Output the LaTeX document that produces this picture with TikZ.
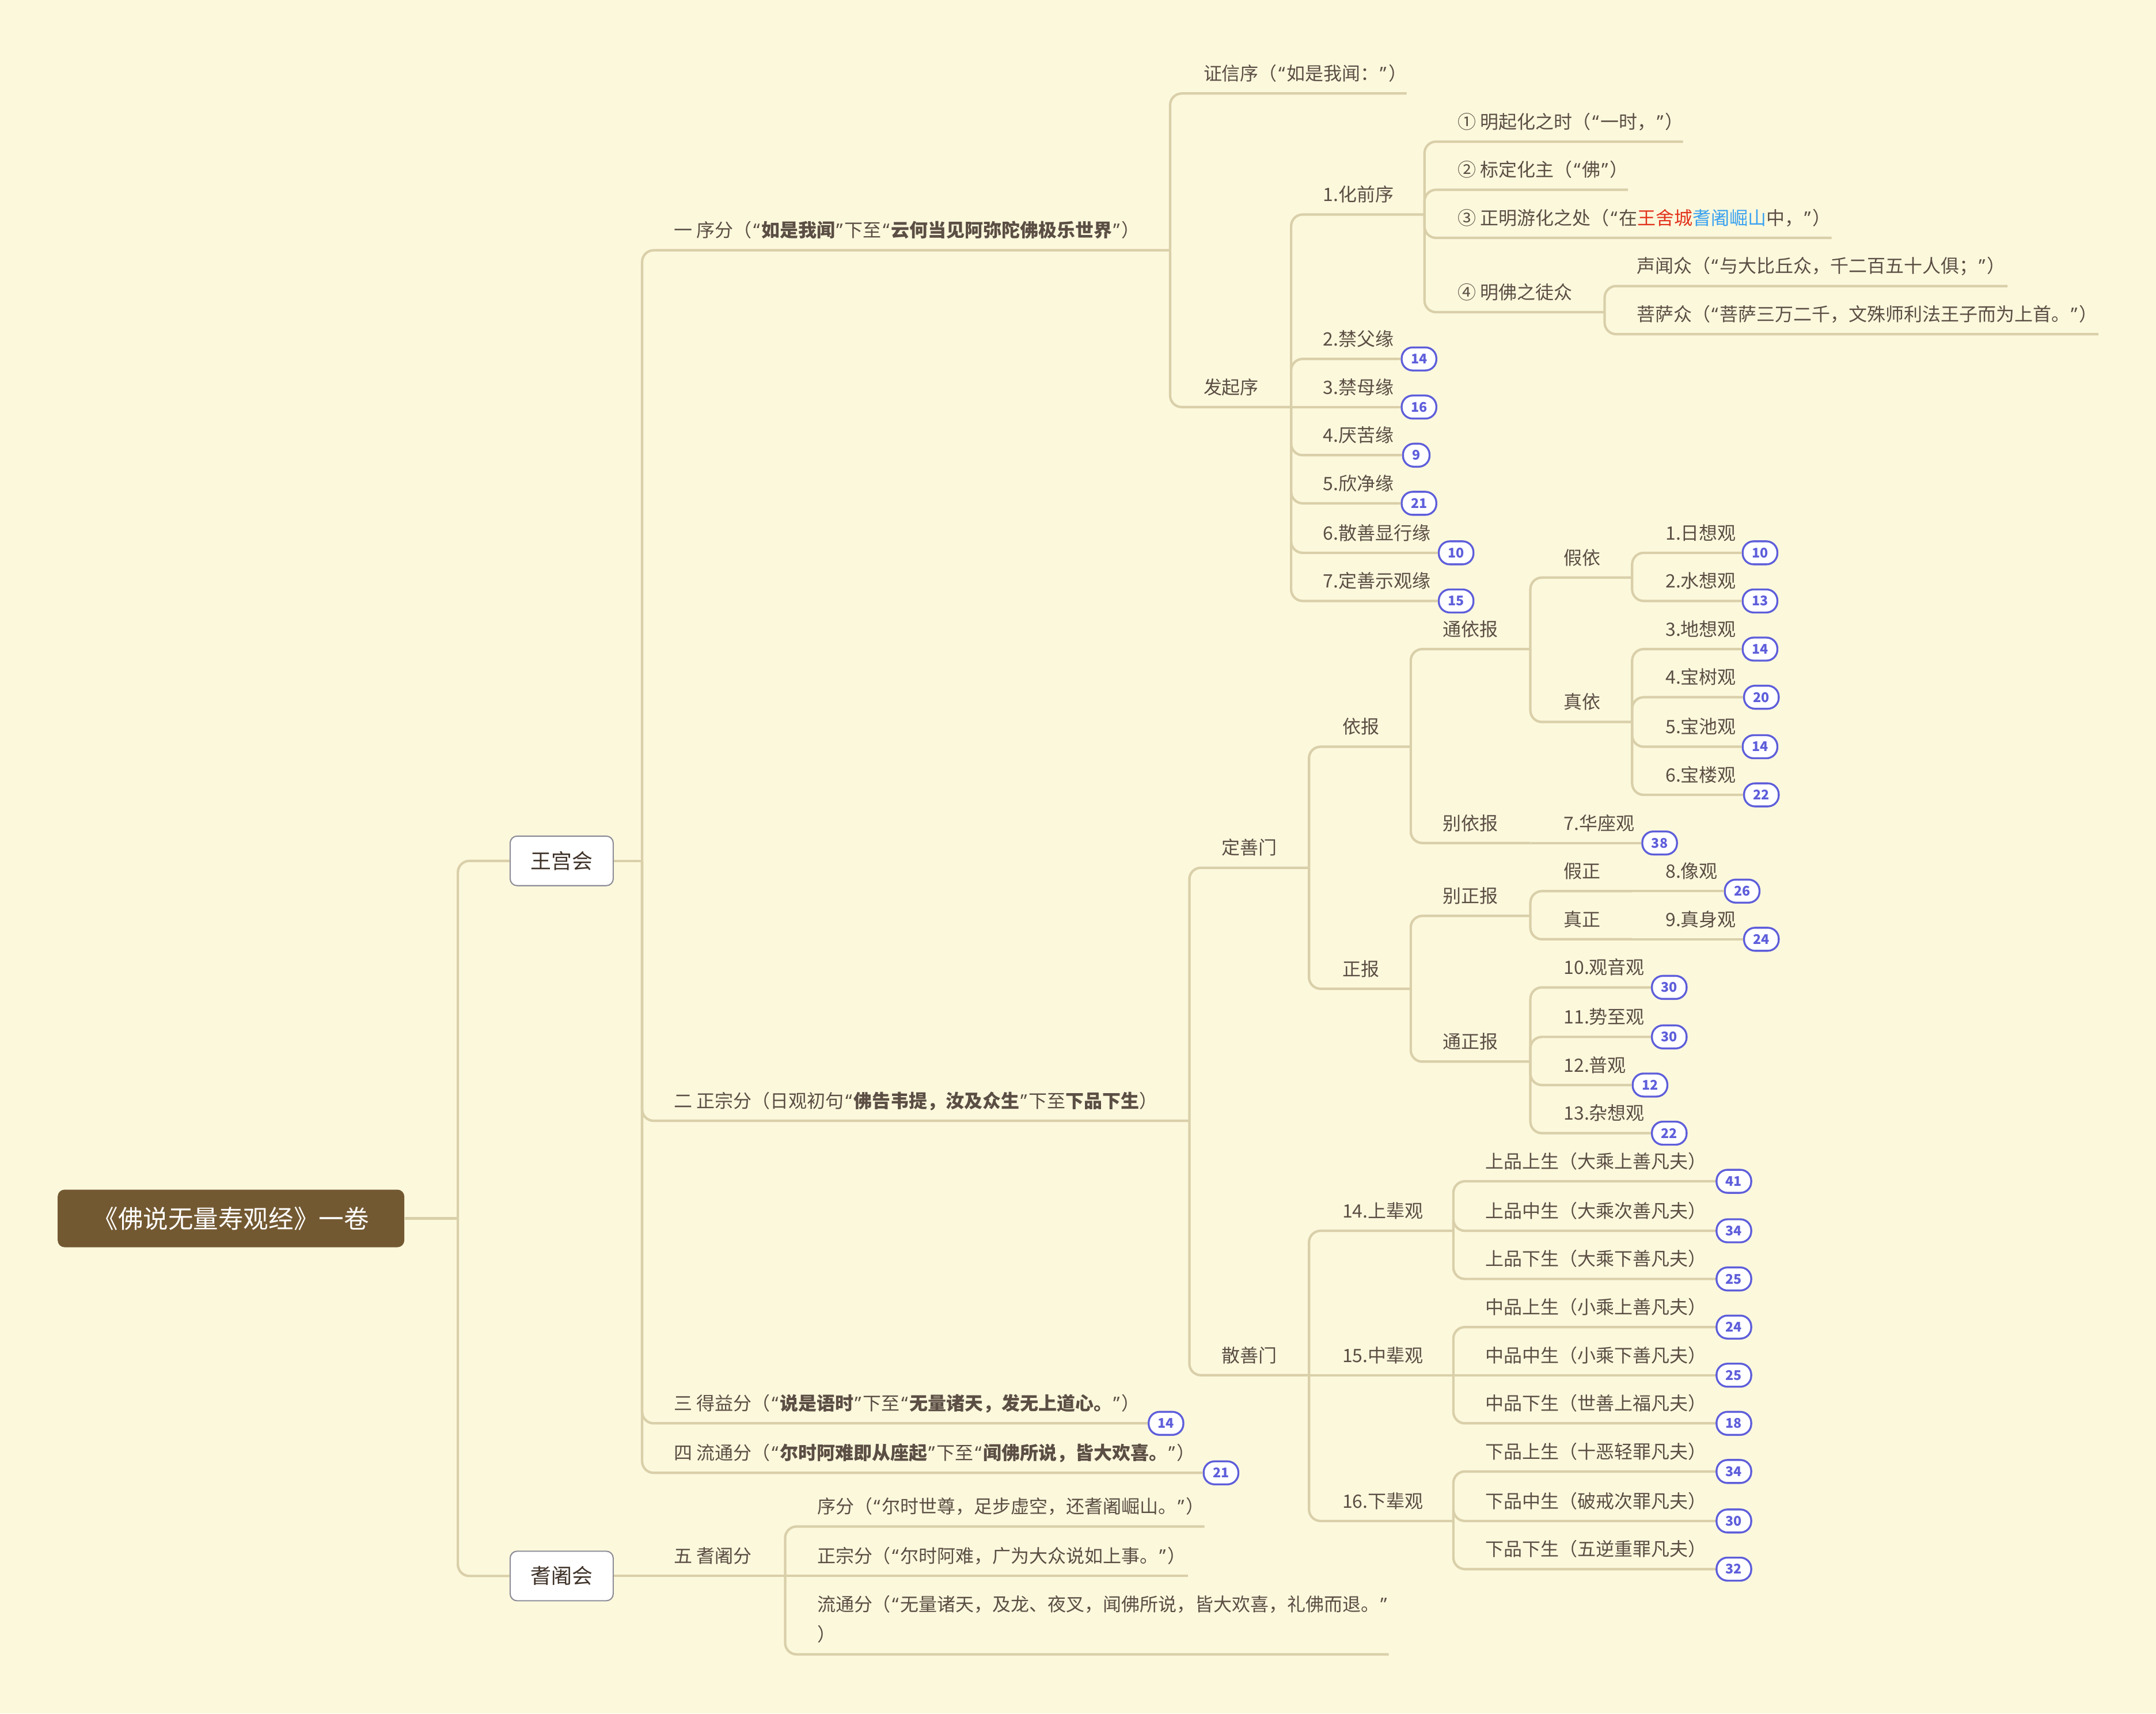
\documentclass[tikz,border=0pt]{standalone}
\usepackage{fontspec}
\setmainfont{Noto Sans CJK SC}
\newfontfamily\qfont{Noto Sans}
% narrow curly quotes with a little side spacing
\newcommand\qo{\kern0.08em{\qfont “}\kern0.08em}
\newcommand\qc{\kern0.08em{\qfont ”}\kern0.08em}
\definecolor{bgc}{HTML}{FCF8DC}
\definecolor{linec}{HTML}{D9CFA9}
\definecolor{txt}{HTML}{5B4E44}
\definecolor{badgec}{HTML}{5E5EDB}
\definecolor{rootc}{HTML}{735932}
\definecolor{boxc}{HTML}{8E8E98}
\definecolor{boxtxt}{HTML}{3F3229}
\definecolor{redc}{HTML}{E2341E}
\definecolor{bluec}{HTML}{3AA2F0}

% topic: name, text x, underline y, underline end x, text
\newcommand\mmtopic[5]{%
  \node[tp,anchor=base west] (#1) at (#2,#3-9.5) {#5};
  \coordinate (#1-e) at (#4,#3);}
% topic ending in a count badge: name, text x, underline y, badge x, count, text
\newcommand\mmbadged[6]{%
  \node[tp,anchor=base west] (#1) at (#2,#3-9.5) {#6};
  \node[badge] (#1-e) at (#4,#3) {#5};}

\begin{document}
\begin{tikzpicture}[x=0.023878cm, y=-0.023878cm,
  conn/.style={draw=linec, line width=1.2pt, rounded corners=0.2cm},
  tp/.style={inner sep=0pt, text=txt, font=\fontsize{9.1pt}{15pt}\selectfont},
  badge/.style={draw=badgec, fill=white, line width=0.95pt, rounded corners=0.19cm,
    minimum height=0.4cm, minimum width=0.44cm, inner xsep=0.16cm, inner ysep=0pt,
    text=badgec, font=\fontsize{6.6pt}{7pt}\selectfont\bfseries},
  rootbox/.style={fill=rootc, rounded corners=0.12cm, minimum width=6.02cm,
    minimum height=1.0cm, inner sep=0pt, text=white, font=\fontsize{12.4pt}{14pt}\selectfont},
  hallbox/.style={fill=white, draw=boxc, line width=0.6pt, rounded corners=0.12cm,
    minimum width=1.79cm, minimum height=0.86cm, inner sep=0pt, text=boxtxt,
    font=\fontsize{10.2pt}{12pt}\selectfont}]

\useasboundingbox (0,0) rectangle (1568,1246);
\fill[bgc] (0,0) rectangle (1568,1246);

% central topic and the two assemblies
\node[rootbox] (root) at (168,886) {《佛说无量寿观经》一卷};
\node[hallbox] (wg) at (408.5,626) {王宫会};
\node[hallbox] (qs) at (408.5,1146) {耆阇会};
\coordinate (j0) at (333,886);
\coordinate (wg-e) at (467,626);
\coordinate (qs-e) at (467,1146);

% five divisions
\mmtopic{s1}{490}{182}{851}{一 序分（\qo\textbf{如是我闻}\qc 下至\qo\textbf{云何当见阿弥陀佛极乐世界}\qc）}
\mmtopic{s2}{490}{815}{865}{二 正宗分（日观初句\qo\textbf{佛告韦提，汝及众生}\qc 下至\textbf{下品下生}）}
\mmbadged{s3}{490}{1035}{848}{14}{三 得益分（\qo\textbf{说是语时}\qc 下至\qo\textbf{无量诸天，发无上道心。}\qc）}
\mmbadged{s4}{490}{1071}{888}{21}{四 流通分（\qo\textbf{尔时阿难即从座起}\qc 下至\qo\textbf{闻佛所说，皆大欢喜。}\qc）}
\mmtopic{s5}{490}{1146}{571}{五 耆阇分}

% 耆阇分
\mmtopic{q1}{594}{1110}{876}{序分（\qo 尔时世尊，足步虚空，还耆阇崛山。\qc）}
\mmtopic{q2}{594}{1146}{864}{正宗分（\qo 尔时阿难，广为大众说如上事。\qc）}
\node[tp,anchor=base west,align=left] (q3) at (594,1193.5)
  {流通分（\qo 无量诸天，及龙、夜叉，闻佛所说，皆大欢喜，礼佛而退。\qc\\）};
\coordinate (q3-e) at (1010,1203);

% 序分
\mmtopic{a1}{875}{68}{1023}{证信序（\qo 如是我闻：\qc）}
\mmtopic{a2}{875}{296}{939}{发起序}
\mmtopic{b1}{962}{156}{1036}{1.化前序}
\mmbadged{b2}{962}{261}{1032}{14}{2.禁父缘}
\mmbadged{b3}{962}{296}{1032}{16}{3.禁母缘}
\mmbadged{b4}{962}{331}{1030}{9}{4.厌苦缘}
\mmbadged{b5}{962}{366}{1032}{21}{5.欣净缘}
\mmbadged{b6}{962}{402}{1059}{10}{6.散善显行缘}
\mmbadged{b7}{962}{437}{1059}{15}{7.定善示观缘}
\mmtopic{c1}{1060}{103}{1224}{① 明起化之时（\qo 一时，\qc）}
\mmtopic{c2}{1060}{138}{1184}{② 标定化主（\qo 佛\qc）}
\mmtopic{c3}{1060}{173}{1332}{③ 正明游化之处（\qo 在\textcolor{redc}{王舍城}\textcolor{bluec}{耆阇崛山}中，\qc）}
\mmtopic{c4}{1060}{227}{1167}{④ 明佛之徒众}
\mmtopic{d1}{1190}{208}{1460}{声闻众（\qo 与大比丘众，千二百五十人俱；\qc）}
\mmtopic{d2}{1190}{243}{1526}{菩萨众（\qo 菩萨三万二千，文殊师利法王子而为上首。\qc）}

% 正宗分: 定善门
\mmtopic{e1}{888}{631}{952}{定善门}
\mmtopic{e2}{888}{1000}{952}{散善门}
\mmtopic{f1}{976}{543}{1026}{依报}
\mmtopic{f2}{976}{719}{1026}{正报}
\mmtopic{g1}{1049}{472}{1113}{通依报}
\mmtopic{g2}{1049}{613}{1113}{别依报}
\mmtopic{g3}{1049}{666}{1113}{别正报}
\mmtopic{g4}{1049}{772}{1113}{通正报}
\mmtopic{h1}{1137}{420}{1187}{假依}
\mmtopic{h2}{1137}{525}{1187}{真依}
\mmbadged{h3}{1137}{613}{1207}{38}{7.华座观}
\mmtopic{h4}{1137}{648}{1187}{假正}
\mmtopic{h5}{1137}{683}{1187}{真正}
\mmbadged{h6}{1137}{718}{1214}{30}{10.观音观}
\mmbadged{h7}{1137}{754}{1214}{30}{11.势至观}
\mmbadged{h8}{1137}{789}{1200}{12}{12.普观}
\mmbadged{h9}{1137}{824}{1214}{22}{13.杂想观}
\mmbadged{i1}{1211}{402}{1280}{10}{1.日想观}
\mmbadged{i2}{1211}{437}{1280}{13}{2.水想观}
\mmbadged{i3}{1211}{472}{1280}{14}{3.地想观}
\mmbadged{i4}{1211}{507}{1281}{20}{4.宝树观}
\mmbadged{i5}{1211}{543}{1280}{14}{5.宝池观}
\mmbadged{i6}{1211}{578}{1281}{22}{6.宝楼观}
\mmbadged{l1}{1211}{648}{1267}{26}{8.像观}
\mmbadged{l2}{1211}{683}{1281}{24}{9.真身观}

% 正宗分: 散善门
\mmtopic{j1}{976}{895}{1057}{14.上辈观}
\mmtopic{j2}{976}{1000}{1057}{15.中辈观}
\mmtopic{j3}{976}{1106}{1057}{16.下辈观}
\mmbadged{k1}{1080}{859}{1261}{41}{上品上生（大乘上善凡夫）}
\mmbadged{k2}{1080}{895}{1261}{34}{上品中生（大乘次善凡夫）}
\mmbadged{k3}{1080}{930}{1261}{25}{上品下生（大乘下善凡夫）}
\mmbadged{k4}{1080}{965}{1261}{24}{中品上生（小乘上善凡夫）}
\mmbadged{k5}{1080}{1000}{1261}{25}{中品中生（小乘下善凡夫）}
\mmbadged{k6}{1080}{1035}{1261}{18}{中品下生（世善上福凡夫）}
\mmbadged{k7}{1080}{1070}{1261}{34}{下品上生（十恶轻罪凡夫）}
\mmbadged{k8}{1080}{1106}{1261}{30}{下品中生（破戒次罪凡夫）}
\mmbadged{k9}{1080}{1141}{1261}{32}{下品下生（五逆重罪凡夫）}

% connectors
\draw[conn] (root.east) -- (j0);
\draw[conn] (j0) |- (wg.west);
\draw[conn] (j0) |- (qs.west);
\draw[conn] (wg.east) -- (wg-e);
\draw[conn] (qs.east) -- (qs-e);
% branches that turn a corner
\foreach \p/\c in {wg/s1,wg/s2,wg/s3,wg/s4,s5/q1,s5/q3,
    s1/a1,s1/a2,a2/b1,a2/b2,a2/b4,a2/b5,a2/b6,a2/b7,
    b1/c1,b1/c2,b1/c3,b1/c4,c4/d1,c4/d2,
    s2/e1,s2/e2,e1/f1,e1/f2,f1/g1,f1/g2,f2/g3,f2/g4,
    g1/h1,g1/h2,g3/h4,g3/h5,g4/h6,g4/h7,g4/h8,g4/h9,
    h1/i1,h1/i2,h2/i3,h2/i4,h2/i5,h2/i6,
    e2/j1,e2/j3,j1/k1,j1/k2,j1/k3,j2/k4,j2/k6,j3/k7,j3/k8,j3/k9}
  \draw[conn] (\p-e) |- (\c-e);
% branches that run straight on at their parent's height
\foreach \p/\c in {qs/s5,s5/q2,a2/b3,g2/h3,h4/l1,h5/l2,e2/j2,j2/k5}
  \draw[conn] (\p-e) -- (\c-e);
\end{tikzpicture}
\end{document}
